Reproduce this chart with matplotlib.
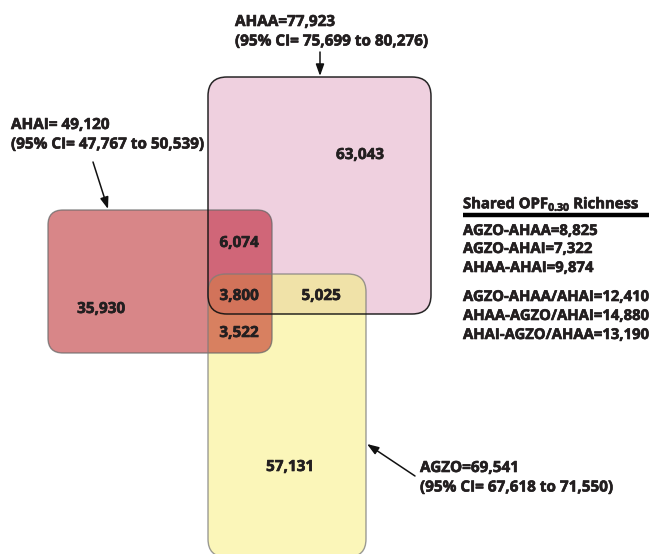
import matplotlib
matplotlib.use("Agg")
import matplotlib.pyplot as plt
import matplotlib.patheffects as pe
from matplotlib.colors import to_rgba
from matplotlib.patches import FancyBboxPatch, Polygon
from matplotlib.transforms import Bbox, TransformedBbox

# ---------------- data ----------------
set_names = ["AHAA", "AHAI", "AGZO"]
set_totals = [77923, 49120, 69541]
ci_low = [75699, 47767, 67618]
ci_high = [80276, 50539, 71550]

region_names = ["AHAA only", "AHAI only", "AGZO only",
                "AHAI&AHAA", "AHAA&AGZO", "AHAI&AGZO", "all"]
region_values = [63043, 35930, 57131, 6074, 5025, 3522, 3800]

shared_labels = ["AGZO-AHAA", "AGZO-AHAI", "AHAA-AHAI",
                 "AGZO-AHAA/AHAI", "AHAA-AGZO/AHAI", "AHAI-AGZO/AHAA"]
shared_values = [8825, 7322, 9874, 12410, 14880, 13190]

# ---------------- style ----------------
FONT = "Open Sans"
plt.rcParams["font.family"] = [FONT, "DejaVu Sans"]
plt.rcParams["mathtext.fontset"] = "custom"
plt.rcParams["mathtext.rm"] = FONT
plt.rcParams["mathtext.bf"] = FONT + ":bold"
plt.rcParams["mathtext.default"] = "bf"
FS = 11
TXT = "#231f20"
BOLD = [pe.withStroke(linewidth=0.45, foreground=TXT)]

W, H = 653, 554
fig = plt.figure(figsize=(W / 100, H / 100), dpi=100)
ax = fig.add_axes([0, 0, 1, 1])
ax.set_xlim(0, W)
ax.set_ylim(H, 0)
ax.axis("off")

# box geometry (layout, pixels): x0, y0, x1, y1, radius
boxes = {
    "AHAA": (208, 77, 431, 314, 19),
    "AHAI": (48, 210, 272, 353, 15),
    "AGZO": (208, 274, 366, 557, 18),
}

pink = "#efd0df"
red = "#d88688"
yellow = "#fbf6b9"
redpink = "#d06678"
yellowpink = "#f0e2a8"
yellowred = "#d88060"
triple = "#d2735a"


def box_verts(name):
    x0, y0, x1, y1, r = boxes[name]
    fb = FancyBboxPatch((x0, y0), x1 - x0, y1 - y0,
                        boxstyle=f"round,pad=0,rounding_size={r}")
    return fb.get_path().to_polygons()[0]


def make_box(name, fc, ec="none", lw=0, z=1):
    p = Polygon(box_verts(name), closed=True, facecolor=fc, edgecolor=ec,
                linewidth=lw, zorder=z, joinstyle="round")
    ax.add_patch(p)
    return p


p_ahaa = make_box("AHAA", pink, z=1)
p_ahai = make_box("AHAI", red, z=2)
p_agzo = make_box("AGZO", yellow, z=3)

# overlaps
o1 = make_box("AHAI", redpink, z=4)
o1.set_clip_path(p_ahaa)
o2 = make_box("AGZO", yellowpink, z=4)
o2.set_clip_path(p_ahaa)
o3 = make_box("AGZO", yellowred, z=4)
o3.set_clip_path(p_ahai)
o4 = make_box("AGZO", triple, z=5)
o4.set_clip_path(p_ahaa)
rx0, ry0, rx1, ry1, _ = boxes["AHAI"]
o4.set_clip_box(TransformedBbox(Bbox([[rx0, ry0], [rx1, ry1]]), ax.transData))

# edges
clear = (1, 1, 1, 0)
make_box("AHAI", clear, ec=to_rgba("#6a6a6a", 0.75), lw=1.0, z=6)
make_box("AGZO", clear, ec=to_rgba("#7a7a7a", 0.75), lw=1.0, z=6)
make_box("AHAA", clear, ec=to_rgba("#111111", 0.9), lw=1.1, z=7)

# region numbers
region_pos = [(360, 155), (101, 309), (290, 467),
              (239, 243), (321, 296), (239, 333), (239, 296)]
for (x, y), v in zip(region_pos, region_values):
    ax.text(x, y, f"{v:,}", ha="center", va="center", fontsize=FS,
            fontweight="bold", color=TXT, zorder=10, path_effects=BOLD)

# set labels
sep = {"AHAA": "=", "AHAI": "= ", "AGZO": "="}
label_pos = {"AHAA": (235, 22), "AHAI": (11, 125), "AGZO": (420, 468)}
arrows = {"AHAA": ((320, 52), (320, 76)),
          "AHAI": ((93, 162), (108, 209)),
          "AGZO": ((415, 476), (367, 444))}
for name, tot, lo, hi in zip(set_names, set_totals, ci_low, ci_high):
    x, y = label_pos[name]
    ax.text(x, y, f"{name}{sep[name]}{tot:,}", ha="left", va="center",
            fontsize=FS, fontweight="bold", color=TXT, path_effects=BOLD)
    ax.text(x, y + 19.5, f"(95% CI= {lo:,} to {hi:,})", ha="left",
            va="center", fontsize=FS, fontweight="bold", color=TXT,
            path_effects=BOLD)
    (sx, sy), (ex, ey) = arrows[name]
    ax.annotate("", xy=(ex, ey), xytext=(sx, sy),
                arrowprops=dict(arrowstyle="-|>,head_length=0.7,head_width=0.25",
                                color="#111111", lw=1.1,
                                shrinkA=0, shrinkB=0), zorder=9)

# shared richness table
tx = 463
TFS = 10.7
ax.text(tx, 204, r"Shared OPF$_{0.30}$ Richness", ha="left", va="center",
        fontsize=TFS, fontweight="bold", color=TXT, path_effects=BOLD)
ax.plot([tx, 649], [215, 215], color="black", lw=3.2, solid_capstyle="butt")
ys = [231, 249, 268, 297, 316, 335]
for y, lab, v in zip(ys, shared_labels, shared_values):
    ax.text(tx, y, f"{lab}={v:,}", ha="left", va="center", fontsize=TFS,
            fontweight="bold", color=TXT, path_effects=BOLD)

fig.savefig("out.png", dpi=100)
